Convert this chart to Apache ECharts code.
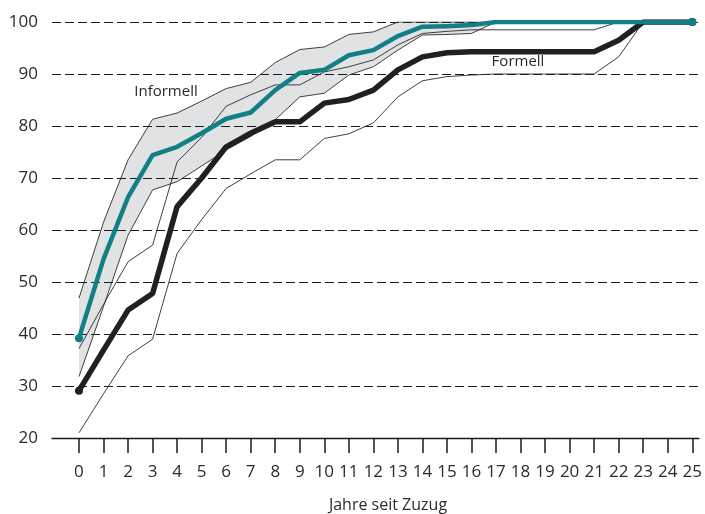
<!DOCTYPE html>
<html>
<head>
<meta charset="utf-8">
<script src="https://cdn.jsdelivr.net/npm/echarts@6/dist/echarts.min.js"></script>
<style>
html,body{margin:0;padding:0;background:#fff;}
#chart{width:705px;height:514px;}
</style>
</head>
<body>
<div id="chart"></div>
<script>
var years = [0,1,2,3,4,5,6,7,8,9,10,11,12,13,14,15,16,17,18,19,20,21,22,23,24,25];
var yTicks = [20,30,40,50,60,70,80,90,100];
var informellMean  = [39.2,54.4,66.3,74.4,76.0,78.6,81.4,82.6,86.9,90.2,90.8,93.6,94.6,97.3,99.1,99.2,99.4,100,100,100,100,100,100,100,100,100];
var informellUpper = [46.9,61.5,73.5,81.3,82.5,84.8,87.2,88.4,92.2,94.7,95.2,97.6,98.1,100,100,100,100,100,100,100,100,100,100,100,100,100];
var informellLower = [31.8,45.3,59.0,67.7,69.3,72.3,75.4,78.0,81.2,85.6,86.3,89.8,91.4,94.6,97.5,97.6,97.8,100,100,100,100,100,100,100,100,100];
var formellMean  = [29.1,36.9,44.6,47.8,64.5,70.0,76.0,78.6,80.8,80.8,84.4,85.1,86.9,90.8,93.3,94.1,94.3,94.3,94.3,94.3,94.3,94.3,96.5,100,100,100];
var formellUpper = [37.2,45.7,53.9,57.1,73.1,77.8,83.8,86.0,87.9,87.9,90.4,91.4,92.7,95.6,97.8,98.2,98.5,98.5,98.5,98.5,98.5,98.5,100,100,100,100];
var formellLower = [21.0,28.5,35.8,39.0,55.5,62.0,68.0,70.8,73.5,73.5,77.6,78.5,80.6,85.6,88.7,89.5,89.8,90,90,90,90,90,93.3,100,100,100];
var labelInformell = 'Informell';
var labelFormell = 'Formell';
var axisTitle = 'Jahre seit Zuzug';

function pairs(arr){ return years.map(function(x,i){ return [x, arr[i]]; }); }

var FONT = "'Open Sans', sans-serif";
var TXT = '#2b2b2b';
var last = years.length - 1;

function thin(data){
  return {type:'line', data: pairs(data), symbol:'none', silent:true,
    lineStyle:{color:'#2a2a2a', width:0.9}, z:3};
}
function endDots(arr, size){
  return years.map(function(x,i){
    var v = {value:[x, arr[i]]};
    if(i===0 || i===last){ v.symbol='circle'; v.symbolSize=size; } else { v.symbol='none'; }
    return v;
  });
}

var bandSeries = {
  type:'custom', silent:true, z:1,
  data:[[0, 0]],
  encode:{x:0, y:1},
  renderItem:function(params, api){
    var pts = [];
    for(var i=0;i<years.length;i++){ pts.push(api.coord([years[i], informellUpper[i]])); }
    for(var j=years.length-1;j>=0;j--){ pts.push(api.coord([years[j], informellLower[j]])); }
    return {type:'polygon', shape:{points:pts}, style:{fill:'#e1e2e4', stroke:null}};
  }
};

var chart = echarts.init(document.getElementById('chart'), null, {renderer:'canvas'});
chart.setOption({
  animation:false,
  grid:{left:52, right:0, top:22, height:416},
  xAxis:{
    type:'value', min:-1.1, max:25.27, z:2,
    axisLine:{show:true, lineStyle:{color:'#1a1a1a', width:1.3}},
    axisTick:{show:true, customValues: years, length:15, lineStyle:{color:'#1a1a1a', width:1.5}},
    axisLabel:{customValues: years, fontSize:17, color:TXT, fontFamily:FONT, margin:26},
    splitLine:{show:false}
  },
  yAxis:{
    type:'value', min:20, max:100, interval:10, z:2,
    axisLine:{show:false}, axisTick:{show:false},
    axisLabel:{fontSize:17, color:TXT, fontFamily:FONT, margin:14, customValues: yTicks},
    splitLine:{show:true, lineStyle:{color:'#1a1a1a', width:1.2, type:[9,4]}}
  },
  graphic:[
    {type:'text', x:166, y:92, style:{text:labelInformell, fill:TXT, font:'15px ' + FONT, textAlign:'center', textVerticalAlign:'middle'}},
    {type:'text', x:518, y:62, style:{text:labelFormell, fill:TXT, font:'15px ' + FONT, textAlign:'center', textVerticalAlign:'middle'}},
    {type:'text', x:388, y:505, style:{text:axisTitle, fill:TXT, font:'16px ' + FONT, textAlign:'center', textVerticalAlign:'middle'}}
  ],
  series:[
    bandSeries,
    thin(informellUpper),
    thin(informellLower),
    thin(formellUpper),
    thin(formellLower),
    {type:'line', data: endDots(formellMean, 8), silent:true,
      lineStyle:{color:'#231f20', width:5.5, join:'round'}, itemStyle:{color:'#231f20'}, z:5},
    {type:'line', data: endDots(informellMean, 8), silent:true,
      lineStyle:{color:'#127f86', width:4.5, join:'round'}, itemStyle:{color:'#127f86'}, z:6}
  ]
});
</script>
</body>
</html>
